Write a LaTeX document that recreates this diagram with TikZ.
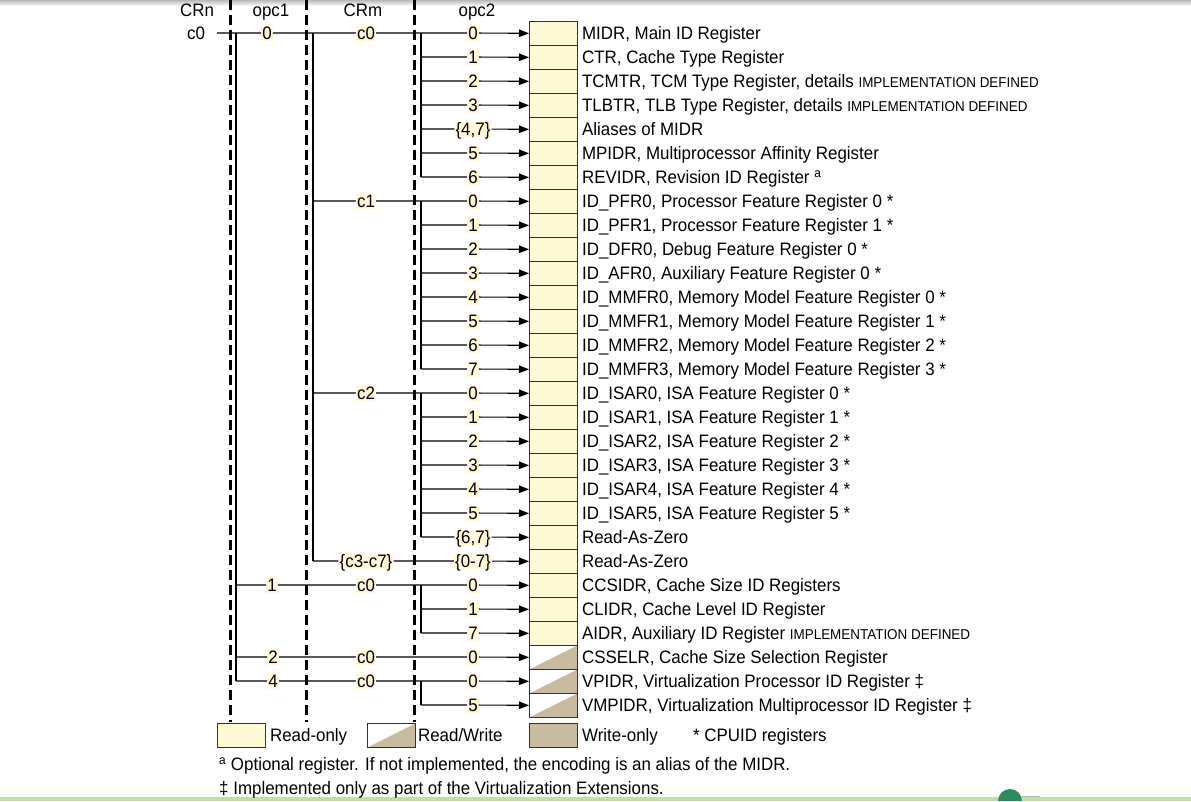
\documentclass[tikz,border=0pt]{standalone}
\usepackage{fontspec}
\setmainfont{Liberation Sans}[FakeStretch=0.94]
\usetikzlibrary{arrows.meta}
\definecolor{ro}{RGB}{255,250,214}
\definecolor{tanc}{RGB}{201,186,162}
\definecolor{hl}{RGB}{255,248,220}
\definecolor{bc}{RGB}{50,50,50}
\definecolor{lgreen}{RGB}{185,228,165}
\definecolor{dgreen}{RGB}{45,140,95}
\newcommand\myfs{\fontsize{18}{21}\selectfont}
\newcommand\mysm{\fontsize{14.3}{16}\selectfont}
\begin{document}
\begin{tikzpicture}[x=1pt,y=-1pt,
  hdr/.style={font=\myfs, inner sep=0pt, anchor=base, text height=13pt, text depth=0pt},
  lbl/.style={font=\myfs, fill=hl, inner sep=1pt, text height=13pt, text depth=0pt},
  conn/.style={line width=1.1pt},
  arr/.style={conn, -{Triangle[length=10pt,width=7.5pt]}},
  rbox/.style={draw=bc, line width=0.9pt, fill=ro, minimum width=48pt, minimum height=24pt, inner sep=0pt, anchor=north west},
  rwbox/.style={rbox, fill=white, path picture={\fill[tanc] (path picture bounding box.south west) -- (path picture bounding box.north east) -- (path picture bounding box.south east) -- cycle;}},
  desc/.style={font=\myfs, anchor=base west, inner sep=0pt},
  sep/.style={line width=3pt, dash pattern=on 10pt off 5pt}]
\useasboundingbox (0,0) rectangle (1191,801);
% page decorations
\shade[top color=gray!55, bottom color=white] (0,0) rectangle (1191,6);
\fill[lgreen] (0,797) rectangle (1191,801);
\fill[dgreen] (998,801) arc[start angle=180, end angle=360, radius=12] -- cycle;
\draw[gray!60, line width=0.8pt] (1022,796) -- (1040,796);
% separators
\draw[sep] (230,0) -- (230,722);
\draw[sep] (306,0) -- (306,722);
\draw[sep] (414,0) -- (414,722);
% headers
\node[hdr] (hcrn) at (197,16) {CRn};
\node[hdr] (hop1) at (271,16) {opc1};
\node[hdr] (hcrm) at (363,16) {CRm};
\node[hdr] (hop2) at (477,16) {opc2};
\node[hdr] (n0) at (196,39.5) {c0};
% register boxes
\foreach \i in {0,...,25} \node[rbox] (r\i) at (529,21+24*\i) {};
\foreach \i in {26,27,28} \node[rwbox] (r\i) at (529,21+24*\i) {};
% opc2 labels
\node[lbl] (o0) at (473,33) {0};
\node[lbl] (o1) at (473,57) {1};
\node[lbl] (o2) at (473,81) {2};
\node[lbl] (o3) at (473,105) {3};
\node[lbl] (o4) at (473,129) {\{4,7\}};
\node[lbl] (o5) at (473,153) {5};
\node[lbl] (o6) at (473,177) {6};
\node[lbl] (o7) at (473,201) {0};
\node[lbl] (o8) at (473,225) {1};
\node[lbl] (o9) at (473,249) {2};
\node[lbl] (o10) at (473,273) {3};
\node[lbl] (o11) at (473,297) {4};
\node[lbl] (o12) at (473,321) {5};
\node[lbl] (o13) at (473,345) {6};
\node[lbl] (o14) at (473,369) {7};
\node[lbl] (o15) at (473,393) {0};
\node[lbl] (o16) at (473,417) {1};
\node[lbl] (o17) at (473,441) {2};
\node[lbl] (o18) at (473,465) {3};
\node[lbl] (o19) at (473,489) {4};
\node[lbl] (o20) at (473,513) {5};
\node[lbl] (o21) at (473,537) {\{6,7\}};
\node[lbl] (o22) at (473,561) {\{0-7\}};
\node[lbl] (o23) at (473,585) {0};
\node[lbl] (o24) at (473,609) {1};
\node[lbl] (o25) at (473,633) {7};
\node[lbl] (o26) at (473,657) {0};
\node[lbl] (o27) at (473,681) {0};
\node[lbl] (o28) at (473,705) {5};
% CRm labels
\node[lbl] (m0) at (366,33) {c0};
\node[lbl] (m7) at (366,201) {c1};
\node[lbl] (m15) at (366,393) {c2};
\node[lbl] (m22) at (366,561) {\{c3-c7\}};
\node[lbl] (m23) at (366,585) {c0};
\node[lbl] (m26) at (366,657) {c0};
\node[lbl] (m27) at (366,681) {c0};
% opc1 labels
\node[lbl] (p0) at (267,33) {0};
\node[lbl] (p23) at (272,585) {1};
\node[lbl] (p26) at (273,657) {2};
\node[lbl] (p27) at (273,681) {4};
% trunks
\coordinate (a1) at (236,33); \coordinate (a2) at (236,681);
\draw[conn] (a1) -- (a2);
\coordinate (b1) at (313,33); \coordinate (b2) at (313,561);
\draw[conn] (b1) -- (b2);
\coordinate (g0a) at (421,33);  \coordinate (g0b) at (421,177);
\coordinate (g1a) at (421,201); \coordinate (g1b) at (421,369);
\coordinate (g2a) at (421,393); \coordinate (g2b) at (421,537);
\coordinate (g3a) at (421,585); \coordinate (g3b) at (421,633);
\coordinate (g4a) at (421,681); \coordinate (g4b) at (421,705);
\foreach \k in {0,...,4} \draw[conn] (g\k a) -- (g\k b);
% connectors
\coordinate (s0) at (217,33);
\draw[arr] (s0) -- (p0) -- (m0) -- (o0) -- (r0);
\foreach \i in {1,2,3,4,5,6,8,9,10,11,12,13,14,16,17,18,19,20,21,24,25,28}{
  \coordinate (s\i) at (421,33+24*\i);
  \draw[arr] (s\i) -- (o\i) -- (r\i);
}
\foreach \i in {7,15,22}{
  \coordinate (s\i) at (313,33+24*\i);
  \draw[arr] (s\i) -- (m\i) -- (o\i) -- (r\i);
}
\foreach \i in {23,26,27}{
  \coordinate (s\i) at (236,33+24*\i);
  \draw[arr] (s\i) -- (p\i) -- (m\i) -- (o\i) -- (r\i);
}
% descriptions
\node[desc] (d0) at ([xshift=4pt,yshift=-6.5pt]r0.east) {MIDR, Main ID Register};
\node[desc] (d1) at ([xshift=4pt,yshift=-6.5pt]r1.east) {CTR, Cache Type Register};
\node[desc] (d2) at ([xshift=4pt,yshift=-6.5pt]r2.east) {TCMTR, TCM Type Register, details {\mysm IMPLEMENTATION DEFINED}};
\node[desc] (d3) at ([xshift=4pt,yshift=-6.5pt]r3.east) {TLBTR, TLB Type Register, details {\mysm IMPLEMENTATION DEFINED}};
\node[desc] (d4) at ([xshift=4pt,yshift=-6.5pt]r4.east) {Aliases of MIDR};
\node[desc] (d5) at ([xshift=4pt,yshift=-6.5pt]r5.east) {MPIDR, Multiprocessor Affinity Register};
\node[desc] (d6) at ([xshift=4pt,yshift=-6.5pt]r6.east) {REVIDR, Revision ID Register \textsuperscript{a}};
\node[desc] (d7) at ([xshift=4pt,yshift=-6.5pt]r7.east) {ID\_PFR0, Processor Feature Register 0 *};
\node[desc] (d8) at ([xshift=4pt,yshift=-6.5pt]r8.east) {ID\_PFR1, Processor Feature Register 1 *};
\node[desc] (d9) at ([xshift=4pt,yshift=-6.5pt]r9.east) {ID\_DFR0, Debug Feature Register 0 *};
\node[desc] (d10) at ([xshift=4pt,yshift=-6.5pt]r10.east) {ID\_AFR0, Auxiliary Feature Register 0 *};
\node[desc] (d11) at ([xshift=4pt,yshift=-6.5pt]r11.east) {ID\_MMFR0, Memory Model Feature Register 0 *};
\node[desc] (d12) at ([xshift=4pt,yshift=-6.5pt]r12.east) {ID\_MMFR1, Memory Model Feature Register 1 *};
\node[desc] (d13) at ([xshift=4pt,yshift=-6.5pt]r13.east) {ID\_MMFR2, Memory Model Feature Register 2 *};
\node[desc] (d14) at ([xshift=4pt,yshift=-6.5pt]r14.east) {ID\_MMFR3, Memory Model Feature Register 3 *};
\node[desc] (d15) at ([xshift=4pt,yshift=-6.5pt]r15.east) {ID\_ISAR0, ISA Feature Register 0 *};
\node[desc] (d16) at ([xshift=4pt,yshift=-6.5pt]r16.east) {ID\_ISAR1, ISA Feature Register 1 *};
\node[desc] (d17) at ([xshift=4pt,yshift=-6.5pt]r17.east) {ID\_ISAR2, ISA Feature Register 2 *};
\node[desc] (d18) at ([xshift=4pt,yshift=-6.5pt]r18.east) {ID\_ISAR3, ISA Feature Register 3 *};
\node[desc] (d19) at ([xshift=4pt,yshift=-6.5pt]r19.east) {ID\_ISAR4, ISA Feature Register 4 *};
\node[desc] (d20) at ([xshift=4pt,yshift=-6.5pt]r20.east) {ID\_ISAR5, ISA Feature Register 5 *};
\node[desc] (d21) at ([xshift=4pt,yshift=-6.5pt]r21.east) {Read-As-Zero};
\node[desc] (d22) at ([xshift=4pt,yshift=-6.5pt]r22.east) {Read-As-Zero};
\node[desc] (d23) at ([xshift=4pt,yshift=-6.5pt]r23.east) {CCSIDR, Cache Size ID Registers};
\node[desc] (d24) at ([xshift=4pt,yshift=-6.5pt]r24.east) {CLIDR, Cache Level ID Register};
\node[desc] (d25) at ([xshift=4pt,yshift=-6.5pt]r25.east) {AIDR, Auxiliary ID Register {\mysm IMPLEMENTATION DEFINED}};
\node[desc] (d26) at ([xshift=4pt,yshift=-6.5pt]r26.east) {CSSELR, Cache Size Selection Register};
\node[desc] (d27) at ([xshift=4pt,yshift=-6.5pt]r27.east) {VPIDR, Virtualization Processor ID Register ‡};
\node[desc] (d28) at ([xshift=4pt,yshift=-6.5pt]r28.east) {VMPIDR, Virtualization Multiprocessor ID Register ‡};
% legend
\node[rbox] (lro) at (217,723) {};
\node[desc] (tro) at ([xshift=4pt,yshift=-6.5pt]lro.east) {Read-only};
\node[rwbox] (lrw) at (367,723) {};
\node[desc] (trw) at ([xshift=2pt,yshift=-6.5pt]lrw.east) {Read/Write};
\node[rbox, fill=tanc] (lwo) at (529,723) {};
\node[desc] (two) at ([xshift=4pt,yshift=-6.5pt]lwo.east) {Write-only};
\node[desc] (tcpu) at (693,741.5) {* CPUID registers};
% footnotes
\node[desc] (f1) at (219,770.5) {\textsuperscript{a} Optional register. If not implemented, the encoding is an alias of the MIDR.};
\node[desc] (f2) at (219,794.5) {‡ Implemented only as part of the Virtualization Extensions.};
\end{tikzpicture}
\end{document}
